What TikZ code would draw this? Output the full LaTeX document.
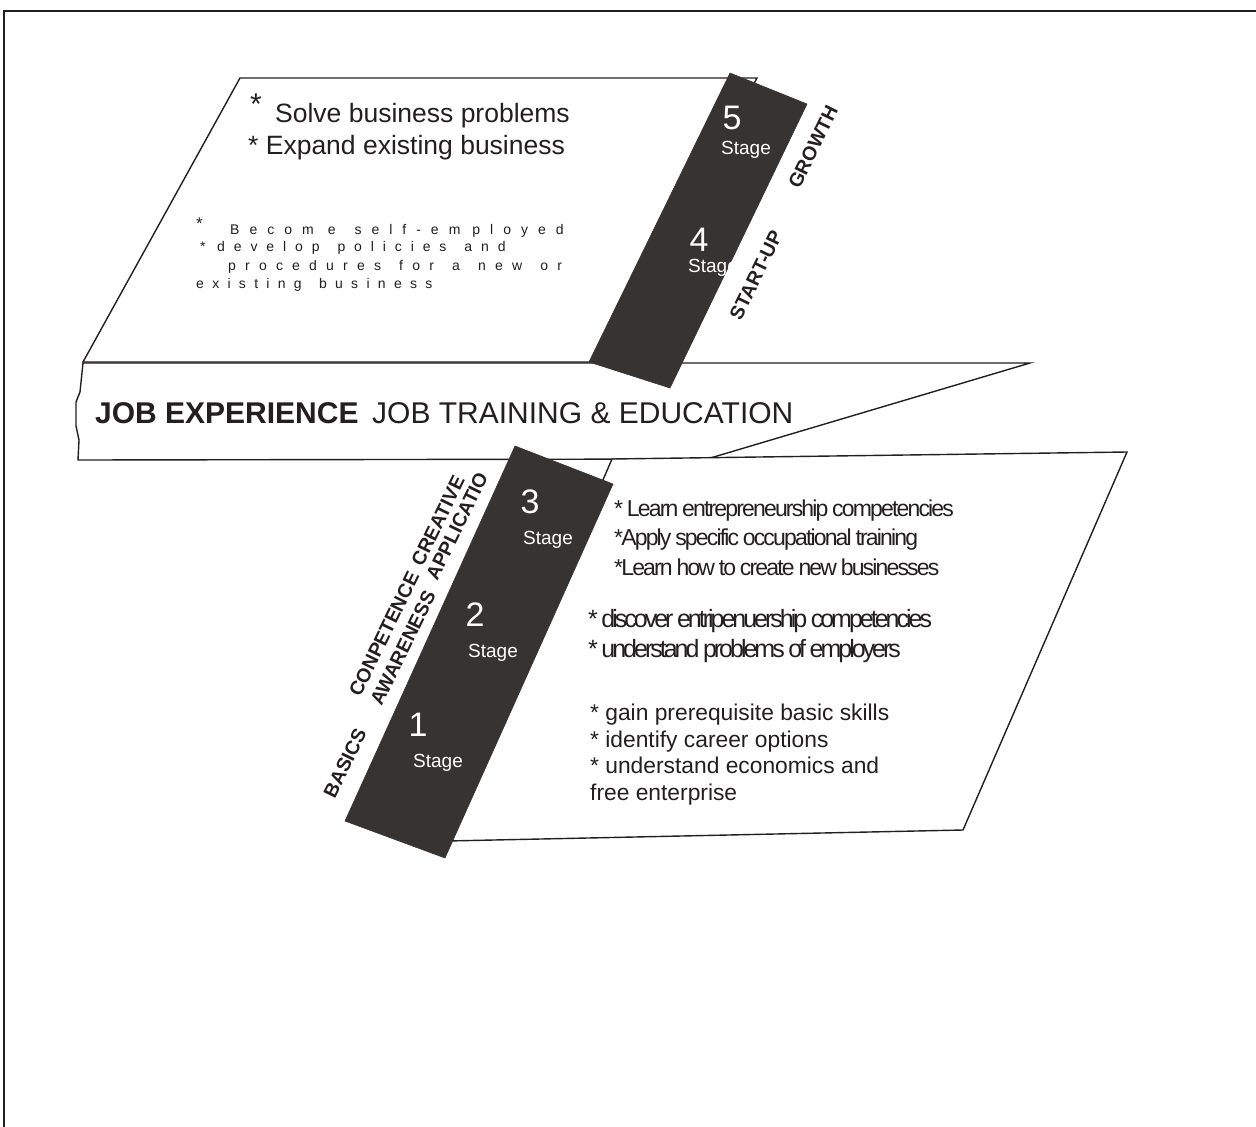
\documentclass[tikz,border=0pt]{standalone}
\usepackage{fontspec}
\setmainfont{Liberation Sans}
\usepackage{graphicx}
\definecolor{ink}{RGB}{35,31,32}
\definecolor{band}{RGB}{55,51,49}
\newcommand{\narrowspaces}[1]{\spaceskip=#1pt\relax}
% letter-by-letter spreading for the tracked paragraph
\makeatletter
\newdimen\letterkern
\def\spreadword#1{\spread@#1\@nil}
\def\spread@#1#2\@nil{#1\ifx\relax#2\relax\else\kern\letterkern\spread@#2\@nil\fi}
\makeatother
\newcommand{\wgap}[1]{\kern\letterkern\kern#1pt\relax}
\begin{document}
\begin{tikzpicture}[x=1pt,y=-1pt,
  frameline/.style={draw=ink,line width=1.8pt},
  plate/.style={draw=ink,line width=1.4pt,fill=white,line join=miter},
  darkband/.style={fill=band,draw=band,line width=0.6pt,line join=miter},
  txt/.style={inner sep=0pt,text=ink,anchor=base west},
  bigtext/.style={txt,font=\fontsize{26.5}{26.5}\selectfont},
  spaced/.style={txt,font=\fontsize{14}{14}\selectfont},
  bandtext/.style={txt,font=\fontsize{30}{30}\selectfont},
  tightA/.style={txt,font={\fontsize{23}{23}\selectfont\addfontfeature{LetterSpace=-8}\narrowspaces{3.8}}},
  tightB/.style={txt,font={\fontsize{25}{25}\selectfont\addfontfeature{LetterSpace=-12}\narrowspaces{3.5}}},
  plain/.style={txt,font=\fontsize{22.8}{22.8}\selectfont},
  stagenum/.style={inner sep=0pt,text=white,font=\fontsize{34}{34}\selectfont},
  stageword/.style={inner sep=0pt,text=white,font=\fontsize{19}{19}\selectfont},
  phase/.style={inner sep=0pt,text=ink,font=\fontsize{19.5}{19.5}\selectfont\bfseries,rotate=64}]
\useasboundingbox (0,0) rectangle (1256,1127);

% outer frame (top and left rules)
\coordinate (frame-bl) at (4,1127);
\coordinate (frame-tl) at (4,11);
\coordinate (frame-tr) at (1256,11);
\draw[frameline] (frame-bl) -- (frame-tl) -- (frame-tr);

% upper plate (stages 4-5)
\coordinate (up-tl) at (240,78);
\coordinate (up-tr) at (757,78);
\coordinate (up-br) at (600,362);
\coordinate (up-bl) at (83,362);
\path[plate] (up-tl) -- (up-tr) -- (up-br) -- (up-bl) -- cycle;

% middle band with torn left edge
\coordinate (mb-tl) at (83,363);
\coordinate (mb-tr) at (1030,363);
\coordinate (mb-br) at (707,459);
\coordinate (mb-bl) at (78,460);
\path[plate] (mb-tl) -- (mb-tr) -- (mb-br) -- (mb-bl)
  -- (79,440) -- (76,426) -- (76,402) -- (80,392) -- cycle;

% lower plate (stages 1-3)
\coordinate (lp-tl) at (612,459);
\coordinate (lp-tr) at (1127,452);
\coordinate (lp-br) at (963,830);
\coordinate (lp-bl) at (447,841);
\path[plate] (lp-tl) -- (lp-tr) -- (lp-br) -- (lp-bl) -- cycle;

% dark stage strips
\coordinate (ub-a) at (730,73);
\coordinate (ub-b) at (807,104);
\coordinate (ub-c) at (670,388);
\coordinate (ub-d) at (589,362);
\path[darkband] (ub-a) -- (ub-b) -- (ub-c) -- (ub-d) -- cycle;
\coordinate (lb-a) at (515,446);
\coordinate (lb-b) at (613,484);
\coordinate (lb-c) at (445,858);
\coordinate (lb-d) at (345,821);
\path[darkband] (lb-a) -- (lb-b) -- (lb-c) -- (lb-d) -- cycle;

% upper plate texts
\node[txt,font=\fontsize{30}{30}\selectfont] (solve-star) at (250,114) {*};
\node[bigtext] (solve) at (275,122) {Solve business problems};
\node[bigtext] (expand) at (248,154) {* Expand existing business};
\node[txt,font=\fontsize{17}{17}\selectfont] (self-star) at (196,229) {*};
\node[spaced] (self) at (230,234) {\letterkern=10pt
  \spreadword{Becom}\wgap{4}\spreadword{e}\wgap{9}\spreadword{self-em}\wgap{2}\spreadword{ployed}};
\node[spaced] (policies-star) at (200,251) {*};
\node[spaced] (policies) at (217,251) {\letterkern=8.9pt
  \spreadword{develop}\wgap{9}\spreadword{policies}\wgap{9}\spreadword{and}};
\node[spaced] (procedures) at (228,270) {\letterkern=9.2pt
  \spreadword{procedures}\wgap{9}\spreadword{for}\wgap{9}\spreadword{a}\wgap{9}\spreadword{new}\wgap{9}\spreadword{or}};
\node[spaced] (existing) at (196,288) {\letterkern=8.3pt
  \spreadword{existing}\wgap{9}\spreadword{business}};

% middle band text
\node[bandtext,font=\fontsize{30}{30}\selectfont\bfseries] (jobexp) at (95,423) {JOB EXPERIENCE};
\node[bandtext] (jobtrain) at (372,423) {JOB TRAINING \& EDUCATION};

% lower plate texts
\node[tightA] (learn1) at (614,516) {* Learn entrepreneurship competencies};
\node[tightA] (apply) at (614,545) {*Apply specific occupational training};
\node[tightA] (learn2) at (614,575) {*Learn how to create new businesses};
\node[tightB] (discover) at (588,627) {* discover entripenuership competencies};
\node[tightB] (problems) at (588,657) {* understand problems of employers};
\node[plain] (gain) at (590,720) {* gain prerequisite basic skills};
\node[plain] (career) at (590,747) {* identify career options};
\node[plain] (econ) at (590,773) {* understand economics and};
\node[plain] (free) at (590,800) {free enterprise};

% stage numbers
\node[stagenum] (n5) at (732,118) {5};
\node[stageword] (s5) at (746,150) {Stage};
\node[stagenum] (n4) at (699,240) {4};
\node[stageword,anchor=west] (s4) at (688,268) {Stage};
\node[stagenum] (n3) at (530,502) {3};
\node[stageword] (s3) at (548,540) {Stage};
\node[stagenum] (n2) at (475,615) {2};
\node[stageword] (s2) at (493,653) {Stage};
\node[stagenum] (n1) at (418,725) {1};
\node[stageword] (s1) at (438,763) {Stage};

% phase labels along the strips
\node[phase] (growth) at (813,147) {GROWTH};
\node[phase] (startup) at (756,275) {START-UP};
\node[phase] (basics) at (345,763) {BASICS};
\node[phase] (conpetence) at (384,634) {CONPETENCE};
\node[phase] (creative) at (438,521) {CREATIVE};
\node[phase] (awareness) at (403,648) {AWARENESS};
\node[phase] (applicatio) at (457,526) {APPLICATIO};
\end{tikzpicture}
\end{document}
